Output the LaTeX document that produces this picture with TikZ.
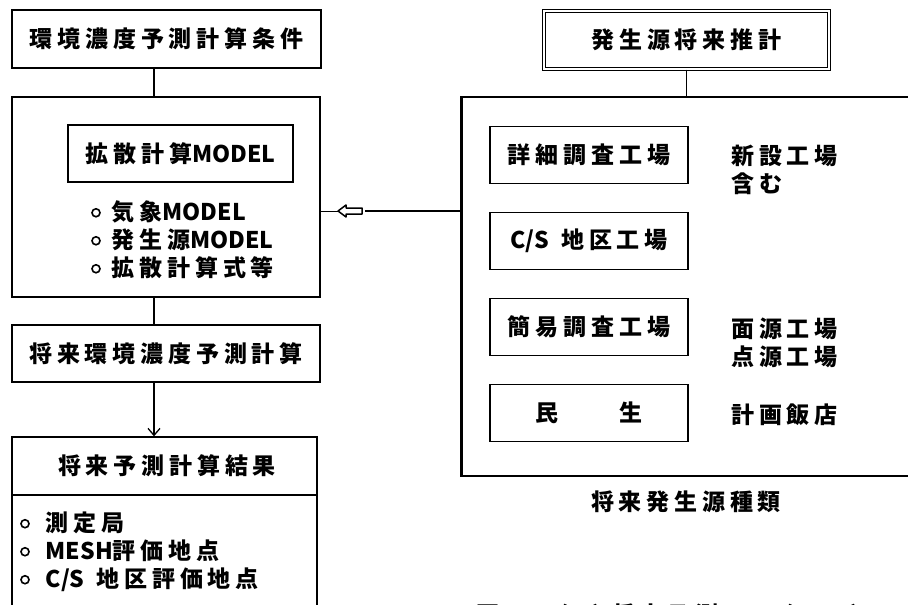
\documentclass[tikz,border=0pt]{standalone}
\usepackage{fontspec}
\usetikzlibrary{arrows.meta}
\setmainfont{Noto Sans CJK JP}
\newfontfamily\cjkls[LetterSpace=21]{Noto Sans CJK JP}
\newfontfamily\cjkn{Noto Sans CJK JP}
\newcommand\lat[1]{{\cjkn\bfseries #1}}
\newcommand\bulc{\tikz[x=1pt,y=1pt,baseline=-8pt]\draw[line width=1.6pt] (0,0) circle (4pt);}
\tikzset{
  box/.style={draw, line width=1.3pt, inner sep=0pt, font=\cjkls\bfseries\fontsize{23}{28}\selectfont},
  boldbox/.style={box, line width=2.4pt},
  txt/.style={inner sep=0pt, align=left, font=\cjkls\bfseries\fontsize{23}{28}\selectfont},
  conn/.style={line width=1.3pt},
}
\begin{document}
\begin{tikzpicture}[x=1pt,y=-1pt]
\useasboundingbox (0,0) rectangle (908,605);
\clip (0,0) rectangle (908,605);
\fill[white] (0,0) rectangle (908,605);
\coordinate (lx) at (154,0);
\coordinate (ay) at (0,211);
% left column
\node[box, minimum width=309pt, minimum height=58pt] (b1) at (166.5,39) {環境濃度予測計算条件};
\node[box, minimum width=308pt, minimum height=200pt] (b2) at (166,197) {};
\node[box, minimum width=225pt, minimum height=57pt] (b2m) at (180.5,153.5) {拡散計算\lat{MODEL}};
\node[txt, anchor=west] (b2l) at (91,240) {\bulc\hspace{11pt}気象\lat{MODEL}\\ \bulc\hspace{11pt}発生源\lat{MODEL}\\ \bulc\hspace{11pt}拡散計算式等};
\node[boldbox, minimum width=308pt, minimum height=57pt] (b3) at (166,353.5) {将来環境濃度予測計算};
\node[box, minimum width=305pt, minimum height=220pt] (b4) at (164.5,547) {};
\node[txt] (b4t) at (167,466) {将来予測計算結果};
\draw[line width=1.2pt] (b4.west |- 0,495) -- (b4.east |- 0,495);
\node[txt, anchor=west] (b4l) at (20,552) {\bulc\hspace{16pt}測定局\\ \bulc\hspace{16pt}\lat{MESH}評価地点\\ \bulc\hspace{16pt}\lat{C/S}\hspace{12pt}地区評価地点};
\draw[conn] (b1.south -| lx) -- (b2.north -| lx);
\draw[conn] (b2.south -| lx) -- (b3.north -| lx);
\draw[conn, -{Straight Barb[length=7pt,width=12pt,line width=1.3pt]}] (b3.south -| lx) -- (b4.north -| lx);
% right column
\node[box, double, double distance=2.2pt, line width=1.1pt, minimum width=285pt, minimum height=58pt] (g) at (686.5,40) {発生源将来推計};
\node[box, minimum width=453pt, minimum height=379pt] (big) at (688.5,286.5) {};
\draw[line width=2pt] (big.north west) -- (big.south west);
\node[box, minimum width=198pt, minimum height=57pt] (r1) at (589,155) {詳細調査工場};
\node[box, minimum width=198pt, minimum height=57pt] (r2) at (589,241) {\lat{C/S}\hspace{12pt}地区工場};
\node[box, minimum width=198pt, minimum height=57pt] (r3) at (589,327) {簡易調査工場};
\node[box, minimum width=198pt, minimum height=57pt] (r4) at (589,413) {民　　生};
\node[txt, anchor=west] (s1) at (731,170) {新設工場\\含む};
\node[txt, anchor=west] (s3) at (731,342.5) {面源工場\\点源工場};
\node[txt, anchor=west] (s4) at (731,415) {計画飯店};
\node[txt] (cap) at (686,502) {将来発生源種類};
\draw[conn] (g.south) -- (big.north -| g.south);
% hollow arrow connector
\coordinate (hatip) at (338,211);
\coordinate (hatail) at (362,211);
\draw[line width=1.5pt, fill=white, line join=round]
  (hatip) -- ++(8,-6) -- ++(0,3) -- ++(16,0) -- ++(0,6) -- ++(-16,0) -- ++(0,3) -- cycle;
\draw[conn] (big.west |- ay) -- ([xshift=3pt]hatail);
\draw[line width=1pt] (hatip) -- (b2.east |- ay);
% caption (cut off at the bottom edge)
\node[txt, anchor=west] (fig) at (476,616) {図7.3 (1) 将来予測\lat{FLOW(1996)}};
\end{tikzpicture}
\end{document}
